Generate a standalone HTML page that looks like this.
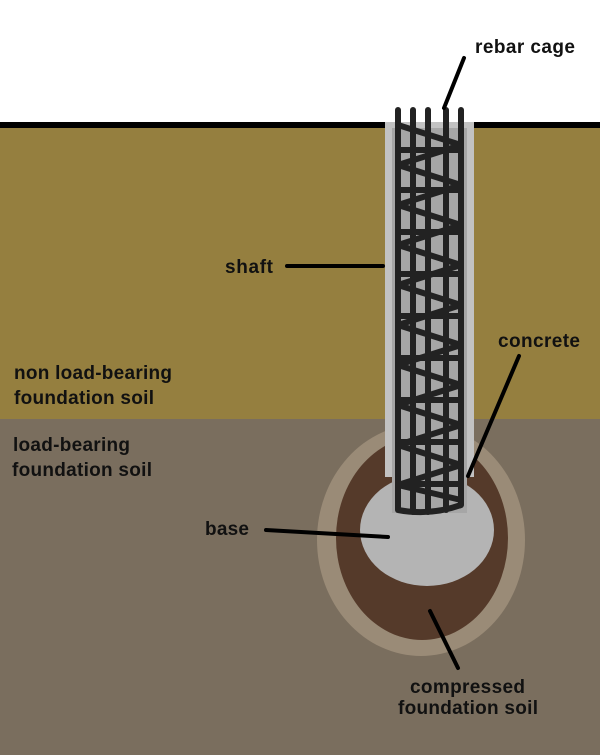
<!DOCTYPE html>
<html><head><style>body{margin:0;background:#fff}svg{display:block}</style></head><body>
<svg width="600" height="755" viewBox="0 0 600 755" xmlns="http://www.w3.org/2000/svg" font-family="Liberation Sans, sans-serif" font-weight="bold" font-size="19" fill="#111">
<rect x="0" y="0" width="600" height="755" fill="#fff"/>
<rect x="0" y="125" width="600" height="295" fill="#957f3f"/>
<rect x="0" y="419" width="600" height="336" fill="#7a6e5e"/>
<rect x="0" y="122" width="600" height="6" fill="#000"/>
<ellipse cx="421" cy="540" rx="104" ry="116" fill="#9a8b77"/>
<ellipse cx="422" cy="538" rx="86" ry="102" fill="#553a2a"/>
<ellipse cx="427" cy="530" rx="67" ry="56" fill="#b4b4b4"/>
<rect x="385" y="122" width="89" height="355" fill="#c2c2c2"/>
<rect x="392" y="128" width="75" height="385" fill="#a6a6a6"/>
<g stroke="#222" stroke-width="6" stroke-linecap="round">
<line x1="398" y1="110" x2="398" y2="510"/>
<line x1="413" y1="110" x2="413" y2="512"/>
<line x1="428" y1="110" x2="428" y2="512"/>
<line x1="446" y1="110" x2="446" y2="510"/>
<line x1="461" y1="110" x2="461" y2="505"/>
</g>
<g stroke="#222" stroke-width="6" fill="none" stroke-linejoin="round">
<path d="M398 125 L461 145 L398 165 L461 185 L398 205 L461 225 L398 245 L461 265 L398 285 L461 305 L398 325 L461 345 L398 365 L461 385 L398 405 L461 425 L398 445 L461 465 L398 485 L461 500"/>
<path d="M398 150 H461 M398 190 H461 M398 232 H461 M398 274 H461 M398 316 H461 M398 358 H461 M398 400 H461 M398 442 H461 M398 484 H461"/>
<path d="M398 510 Q430 516 461 505"/>
</g>
<g stroke="#000" stroke-width="4" stroke-linecap="round">
<line x1="464" y1="58" x2="444" y2="108"/>
<line x1="287" y1="266" x2="383" y2="266"/>
<line x1="519" y1="356" x2="468" y2="476"/>
<line x1="266" y1="530" x2="388" y2="537"/>
<line x1="430" y1="611" x2="458" y2="668"/>
</g>
<text x="475" y="53" textLength="100">rebar cage</text>
<text x="225" y="273" textLength="48">shaft</text>
<text x="498" y="347" textLength="82">concrete</text>
<text x="14" y="379" textLength="158">non load-bearing</text>
<text x="14" y="404" textLength="140">foundation soil</text>
<text x="13" y="451" textLength="117">load-bearing</text>
<text x="12" y="476" textLength="140">foundation soil</text>
<text x="205" y="535" textLength="44">base</text>
<text x="410" y="693" textLength="115">compressed</text>
<text x="398" y="714" textLength="140">foundation soil</text>
</svg>
</body></html>
